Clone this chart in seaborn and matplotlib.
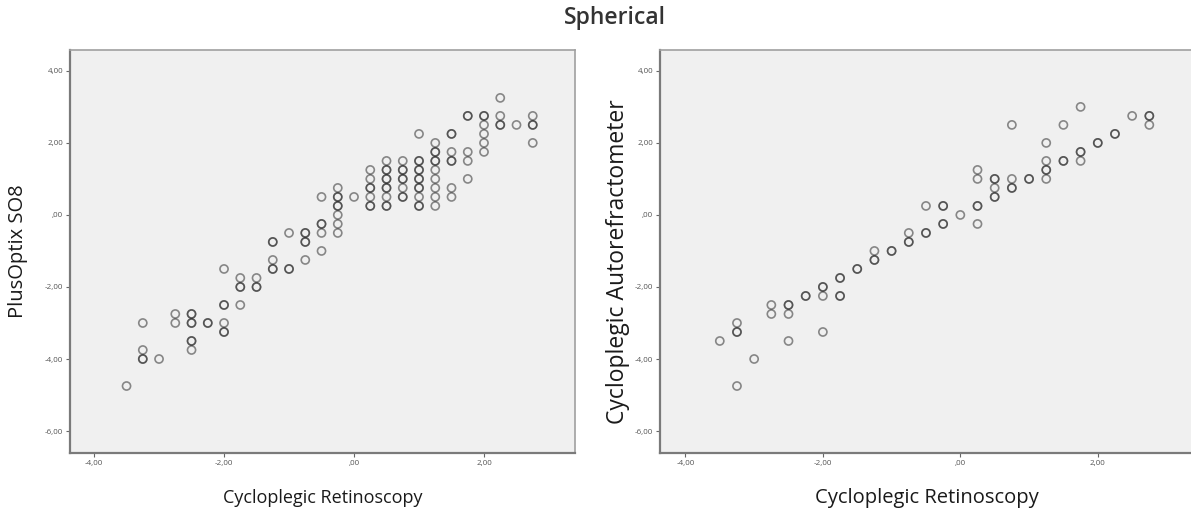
import numpy as np
import pandas as pd
import matplotlib
matplotlib.use('Agg')
import matplotlib.pyplot as plt
import seaborn as sns

# --- PlusOptix S08 vs cycloplegic retinoscopy (left panel) ---
# n = how many subjects share the same point (darker rings in the original)
plus_x = [2.25, 1.75, 2.0, 2.25, 2.0, 2.0, 2.0, 2.0, 2.25, 2.5, 2.75, 2.75, 2.75,
          1.0, 1.5, 1.25, 1.25, 1.25, 1.25, 1.25, 1.25, 1.25, 1.25,
          1.5, 1.5, 1.5, 1.5, 1.75, 1.75, 1.75,
          1.0, 1.0, 1.0, 1.0, 1.0, 1.0,
          0.75, 0.75, 0.75, 0.75, 0.75,
          0.5, 0.5, 0.5, 0.5, 0.5, 0.5,
          0.25, 0.25, 0.25, 0.25, 0.25, 0.0,
          -0.25, -0.25, -0.25, -0.25, -0.25, -0.25,
          -0.5, -0.5, -0.5, -0.5,
          -0.75, -0.75, -0.75, -1.0, -1.0,
          -1.25, -1.25, -1.25, -2.0, -1.75, -1.5,
          -1.75, -1.5, -2.0, -1.75,
          -2.75, -2.75, -2.5, -2.5, -2.25, -2.0, -2.0,
          -3.25, -3.25, -3.25, -3.0, -2.5, -2.5, -3.5]
plus_y = [3.25, 2.75, 2.75, 2.75, 2.5, 2.25, 2.0, 1.75, 2.5, 2.5, 2.75, 2.5, 2.0,
          2.25, 2.25, 2.0, 1.75, 1.5, 1.25, 1.0, 0.75, 0.5, 0.25,
          1.75, 1.5, 0.75, 0.5, 1.75, 1.5, 1.0,
          1.5, 1.25, 1.0, 0.75, 0.5, 0.25,
          1.5, 1.25, 1.0, 0.75, 0.5,
          1.5, 1.25, 1.0, 0.75, 0.5, 0.25,
          1.25, 1.0, 0.75, 0.5, 0.25, 0.5,
          0.75, 0.5, 0.25, 0.0, -0.25, -0.5,
          0.5, -0.25, -0.5, -1.0,
          -0.5, -0.75, -1.25, -0.5, -1.5,
          -0.75, -1.25, -1.5, -1.5, -1.75, -1.75,
          -2.0, -2.0, -2.5, -2.5,
          -2.75, -3.0, -2.75, -3.0, -3.0, -3.0, -3.25,
          -3.0, -3.75, -4.0, -4.0, -3.5, -3.75, -4.75]
plus_n = [1, 2, 2, 1, 1, 1, 1, 1, 2, 1, 1, 2, 1,
          1, 2, 1, 2, 2, 1, 1, 1, 1, 1,
          1, 2, 1, 1, 1, 1, 1,
          2, 2, 2, 2, 1, 2,
          1, 2, 2, 1, 2,
          1, 2, 2, 2, 1, 2,
          1, 1, 2, 1, 2, 1,
          1, 2, 2, 1, 1, 1,
          1, 2, 1, 1,
          2, 2, 1, 1, 2,
          2, 1, 2, 1, 1, 1,
          2, 2, 2, 1,
          1, 1, 2, 2, 2, 1, 2,
          1, 1, 2, 1, 2, 1, 1]

# --- Autorefractometer vs cycloplegic retinoscopy (right panel) ---
auto_x = [1.75, 2.5, 2.75, 2.75, 0.75, 1.5, 2.25, 1.25, 2.0, 1.75, 1.75, 1.5,
          1.25, 1.25, 1.25, 1.0, 0.75, 0.75, 0.5, 0.5, 0.5,
          0.25, 0.25, 0.25, 0.25, 0.0, -0.25, -0.25, -0.5, -0.5,
          -0.75, -0.75, -1.0, -1.25, -1.25, -1.5, -1.75, -1.75,
          -2.0, -2.0, -2.25, -2.5, -2.5, -2.5, -2.75, -2.75, -2.0,
          -3.25, -3.25, -3.25, -3.5, -3.0]
auto_y = [3.0, 2.75, 2.75, 2.5, 2.5, 2.5, 2.25, 2.0, 2.0, 1.75, 1.5, 1.5,
          1.5, 1.25, 1.0, 1.0, 1.0, 0.75, 1.0, 0.75, 0.5,
          1.25, 1.0, 0.25, -0.25, 0.0, 0.25, -0.25, 0.25, -0.5,
          -0.5, -0.75, -1.0, -1.0, -1.25, -1.5, -1.75, -2.25,
          -2.0, -2.25, -2.25, -2.5, -2.75, -3.5, -2.5, -2.75, -3.25,
          -3.0, -3.25, -4.75, -3.5, -4.0]
auto_n = [1, 1, 2, 1, 1, 1, 2, 1, 2, 2, 1, 2,
          1, 2, 1, 2, 1, 2, 2, 1, 2,
          1, 1, 2, 1, 1, 2, 2, 1, 2,
          1, 2, 2, 1, 2, 2, 2, 2,
          2, 1, 2, 2, 1, 1, 1, 1, 1,
          1, 2, 1, 1, 1]

x_ticks = [-4, -2, 0, 2]
x_tick_labels = ['-4,00', '-2,00', ',00', '2,00']
y_ticks = [4, 2, 0, -2, -4, -6]
y_tick_labels = ['4,00', '2,00', ',00', '-2,00', '-4,00', '-6,00']

plus_df = pd.DataFrame({'x': np.repeat(plus_x, plus_n), 'y': np.repeat(plus_y, plus_n)})
auto_df = pd.DataFrame({'x': np.repeat(auto_x, auto_n), 'y': np.repeat(auto_y, auto_n)})

sns.set_theme(style='white')
plt.rcParams['font.family'] = ['Open Sans', 'DejaVu Sans']

W, H = 1191, 511
fig = plt.figure(figsize=(W / 100, H / 100), dpi=100)

# axes boxes in pixels (left, top, right, bottom)
boxes = [(70, 50, 575, 453), (660, 50, 1194, 453)]
# (data, y label, y label x / y position, x label size, y label size)
panels = [(plus_df, 'PlusOptix SO8', -0.103, 0.5, 13, 14.5),
          (auto_df, 'Cycloplegic Autorefractometer', -0.079, 0.476, 14.5, 16.5)]

for (l, t, r, b), (df, ylab, ylab_x, ylab_y, xl_size, yl_size) in zip(boxes, panels):
    ax = fig.add_axes([l / W, 1 - b / H, (r - l) / W, (b - t) / H])
    ax.set_facecolor('#f0f0f0')
    sns.scatterplot(data=df, x='x', y='y', ax=ax, s=34, marker='o',
                    facecolors='none', edgecolor='#262626', linewidth=1.2, alpha=0.52)
    ax.set_xlim(-4.37, 3.40)
    ax.set_ylim(-6.61, 4.58)
    ax.set_xticks(x_ticks)
    ax.set_xticklabels(x_tick_labels)
    ax.set_yticks(y_ticks)
    ax.set_yticklabels(y_tick_labels)
    ax.tick_params(axis='both', which='major', direction='out', length=3, width=0.8,
                   color='#666666', labelsize=5.8, labelcolor='#555555', pad=2,
                   bottom=True, left=True)
    for side in ['left', 'bottom']:
        ax.spines[side].set_color('#7a7a7a')
        ax.spines[side].set_linewidth(1.6)
    for side in ['top', 'right']:
        ax.spines[side].set_color('#a0a0a0')
        ax.spines[side].set_linewidth(1.2)

    ax.set_xlabel('Cycloplegic Retinoscopy', fontsize=xl_size, color='#1a1a1a')
    ax.xaxis.set_label_coords(0.5, -(498 - b) / (b - t))
    ax.xaxis.label.set_va('center')
    ax.set_ylabel(ylab, fontsize=yl_size, color='#1a1a1a')
    ax.yaxis.set_label_coords(ylab_x, ylab_y)
    ax.yaxis.label.set_va('center')

fig.text(615 / W, 1 - 18 / H, 'Spherical', ha='center', va='center',
         fontsize=16.5, fontweight='semibold', color='#333333')

plt.savefig('out.png', dpi=100)
plt.close()
